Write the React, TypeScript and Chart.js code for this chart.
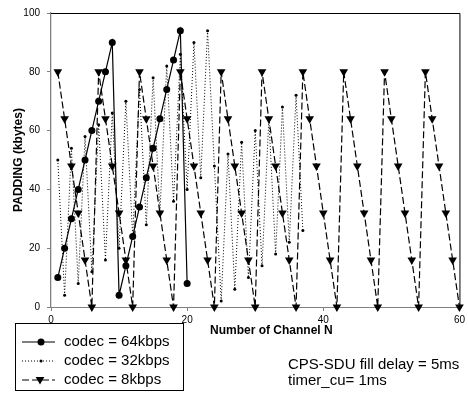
import { useEffect, useRef } from "react";
import { Chart, registerables } from "chart.js";

Chart.register(...registerables);

const CHANNELS_64 = [1, 2, 3, 4, 5, 6, 7, 8, 9, 10, 11, 12, 13, 14, 15, 16, 17, 18, 19, 20];
const PADDING_64 = [10, 20, 30, 40, 50, 60, 70, 80, 90, 4, 14, 24, 34, 44, 54, 64, 74, 84, 94, 8];

const CHANNELS_32 = [
  1, 2, 3, 4, 5, 6, 7, 8, 9, 10, 11, 12, 13, 14, 15, 16, 17, 18, 19, 20, 21, 22, 23, 24, 25, 26, 27, 28, 29,
  30, 31, 32, 33, 34, 35, 36, 37,
];
const PADDING_32 = [
  50, 4, 54, 8, 58, 12, 62, 16, 66, 20, 70, 24, 74, 28, 78, 32, 82, 36, 86, 40, 90, 44, 94, 48, 2, 52, 6, 56, 10,
  60, 14, 64, 18, 68, 22, 72, 26,
];

const CHANNELS_8 = [
  1, 2, 3, 4, 5, 6, 7, 8, 9, 10, 11, 12, 13, 14, 15, 16, 17, 18, 19, 20, 21, 22, 23, 24, 25, 26, 27, 28, 29, 30,
  31, 32, 33, 34, 35, 36, 37, 38, 39, 40, 41, 42, 43, 44, 45, 46, 47, 48, 49, 50, 51, 52, 53, 54, 55, 56, 57, 58,
  59, 60,
];
const PADDING_8 = [
  80, 64, 48, 32, 16, 0, 80, 64, 48, 32, 16, 0, 80, 64, 48, 32, 16, 0, 80, 64, 48, 32, 16, 0, 80, 64, 48, 32, 16, 0,
  80, 64, 48, 32, 16, 0, 80, 64, 48, 32, 16, 0, 80, 64, 48, 32, 16, 0, 80, 64, 48, 32, 16, 0, 80, 64, 48, 32, 16, 0,
];

const X_TICKS = [0, 20, 40, 60];
const Y_TICKS = [0, 20, 40, 60, 80, 100];
const SERIES_LABELS = ["codec = 64kbps", "codec = 32kbps", "codec = 8kbps"];
const X_TITLE = "Number of Channel N";
const Y_TITLE = "PADDING (kbytes)";
const NOTE_LINES = ["CPS-SDU fill delay = 5ms", "timer_cu= 1ms"];

const FONT = '"Liberation Sans", Arial, sans-serif';

function drawTriangleDown(ctx: CanvasRenderingContext2D, x: number, y: number, r: number) {
  ctx.beginPath();
  ctx.moveTo(x - r * 0.866, y - r * 0.5);
  ctx.lineTo(x + r * 0.866, y - r * 0.5);
  ctx.lineTo(x, y + r);
  ctx.closePath();
  ctx.fill();
}

const decorPlugin = {
  id: "decor",
  afterDraw(chart: any) {
    const ctx: CanvasRenderingContext2D = chart.ctx;
    const { left, right, top, bottom } = chart.chartArea;
    ctx.save();
    // frame top/right
    ctx.strokeStyle = "#000";
    ctx.lineWidth = 1;
    ctx.setLineDash([]);
    ctx.beginPath();
    ctx.moveTo(left, top + 0.5);
    ctx.lineTo(right + 0.5, top + 0.5);
    ctx.lineTo(right + 0.5, bottom);
    ctx.stroke();

    // axis titles
    ctx.fillStyle = "#000";
    ctx.font = `bold 12px ${FONT}`;
    ctx.textBaseline = "middle";
    ctx.textAlign = "left";
    ctx.fillText(X_TITLE, 210, 331);
    ctx.save();
    ctx.translate(19, (top + bottom) / 2);
    ctx.rotate(-Math.PI / 2);
    ctx.textAlign = "center";
    ctx.fillText(Y_TITLE, 0, 0);
    ctx.restore();

    // legend
    const lx = 15, ly = 323, lw = 168, lh = 67;
    ctx.strokeStyle = "#000";
    ctx.lineWidth = 1;
    ctx.strokeRect(lx + 0.5, ly + 0.5, lw, lh);
    const rows = [342, 361, 380];
    const dashes = [[], [1, 2], [7, 3]];
    rows.forEach((ry, i) => {
      ctx.strokeStyle = "#000";
      ctx.lineWidth = i === 1 ? 1 : 1.2;
      ctx.setLineDash(dashes[i]);
      ctx.beginPath();
      ctx.moveTo(22, ry);
      ctx.lineTo(55, ry);
      ctx.stroke();
      ctx.setLineDash([]);
      ctx.fillStyle = "#000";
      if (i === 0) {
        ctx.beginPath();
        ctx.arc(41, ry, 3.5, 0, Math.PI * 2);
        ctx.fill();
      } else if (i === 1) {
        ctx.beginPath();
        ctx.arc(41, ry, 1.5, 0, Math.PI * 2);
        ctx.fill();
      } else {
        drawTriangleDown(ctx, 40, ry - 0.5, 5);
      }
      ctx.font = `15px ${FONT}`;
      ctx.textAlign = "left";
      ctx.textBaseline = "middle";
      ctx.fillText(SERIES_LABELS[i], 64, ry);
    });

    // note
    ctx.font = `15px ${FONT}`;
    ctx.fillText(NOTE_LINES[0], 288, 365);
    ctx.fillText(NOTE_LINES[1], 288, 381);
    ctx.restore();
  },
};

export default function App() {
  const ref = useRef<HTMLCanvasElement | null>(null);
  useEffect(() => {
    document.body.style.margin = "0";
    const canvas = ref.current;
    if (!canvas) return;
    const toPoints = (xs: number[], ys: number[]) => xs.map((x, i) => ({ x, y: ys[i] }));
    const chart = new Chart(canvas, {
      type: "line",
      data: {
        datasets: [
          {
            label: SERIES_LABELS[0],
            data: toPoints(CHANNELS_64, PADDING_64),
            borderColor: "#000",
            backgroundColor: "#000",
            borderWidth: 1.2,
            pointRadius: 3.5,
            pointBackgroundColor: "#000",
            pointBorderWidth: 0,
            tension: 0,
            clip: false,
          },
          {
            label: SERIES_LABELS[1],
            data: toPoints(CHANNELS_32, PADDING_32),
            borderColor: "#000",
            backgroundColor: "#000",
            borderWidth: 1,
            borderDash: [1, 2],
            pointRadius: 1.5,
            pointBackgroundColor: "#000",
            pointBorderWidth: 0,
            tension: 0,
            clip: false,
          },
          {
            label: SERIES_LABELS[2],
            data: toPoints(CHANNELS_8, PADDING_8),
            borderColor: "#000",
            backgroundColor: "#000",
            borderWidth: 1.2,
            borderDash: [7, 3],
            pointStyle: "triangle",
            rotation: 180,
            pointRadius: 5,
            pointBackgroundColor: "#000",
            pointBorderWidth: 0,
            tension: 0,
            clip: false,
          },
        ],
      },
      options: {
        animation: false,
        responsive: false,
        maintainAspectRatio: false,
        events: [],
        layout: { padding: { left: 0, top: 9, right: 7, bottom: 0 } },
        plugins: { legend: { display: false }, tooltip: { enabled: false }, title: { display: false } },
        scales: {
          x: {
            type: "linear",
            min: 0,
            max: 60,
            afterBuildTicks: (axis: any) => {
              axis.ticks = X_TICKS.map((v) => ({ value: v }));
            },
            afterFit: (axis: any) => {
              axis.height = 87;
            },
            ticks: { font: { family: FONT, size: 10 }, color: "#000", padding: 3, maxRotation: 0 },
            grid: { drawOnChartArea: false, drawTicks: true, tickLength: 4, color: "#808080" },
            border: { color: "#808080", width: 1 },
          },
          y: {
            type: "linear",
            min: 0,
            max: 100,
            afterBuildTicks: (axis: any) => {
              axis.ticks = Y_TICKS.map((v) => ({ value: v }));
            },
            afterFit: (axis: any) => {
              axis.width = 51;
            },
            ticks: { font: { family: FONT, size: 10 }, color: "#000", padding: 7 },
            grid: { drawOnChartArea: false, drawTicks: true, tickLength: 4, color: "#808080" },
            border: { color: "#808080", width: 1.3 },
          },
        },
      },
      plugins: [decorPlugin],
    });
    return () => chart.destroy();
  }, []);
  return <canvas ref={ref} width={468} height={394} style={{ display: "block" }} />;
}
